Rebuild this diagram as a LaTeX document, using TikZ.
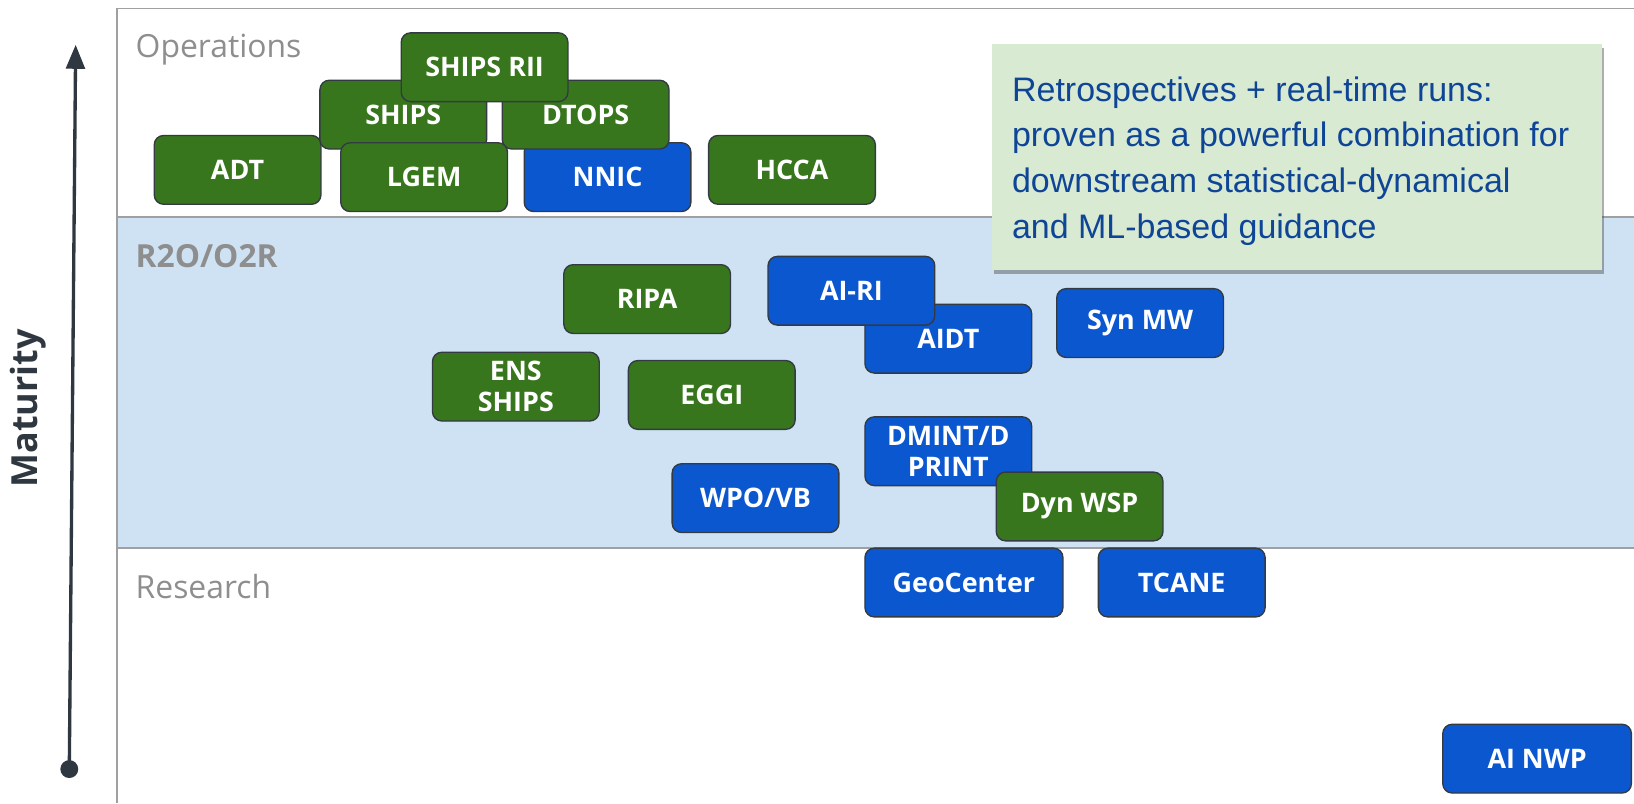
\documentclass[tikz,border=0pt]{standalone}
\usepackage{fontspec}
\setmainfont{Open Sans}
\newfontfamily\arialf{Liberation Sans}
\usetikzlibrary{arrows.meta,shadows}
\definecolor{gbox}{HTML}{38761D}
\definecolor{bbox}{HTML}{0B57D0}
\definecolor{edge}{HTML}{333A42}
\definecolor{band}{HTML}{CFE2F3}
\definecolor{rule}{HTML}{A0A0A0}
\definecolor{lbl}{HTML}{8E8E8E}
\definecolor{note}{HTML}{D9EAD3}
\definecolor{notetext}{HTML}{0E4596}
\definecolor{axis}{HTML}{2F3740}
\tikzset{
  item/.style={draw=edge, line width=1.3pt, rounded corners=9pt,
    minimum width=160pt, minimum height=66pt, inner sep=0pt, text=white,
    align=center, font=\bfseries\fontsize{25.8}{30}\selectfont},
  gitem/.style={item, fill=gbox},
  bitem/.style={item, fill=bbox},
  zone/.style={anchor=base west, text=lbl, inner sep=0pt, font=\fontsize{30.6}{30}\selectfont},
  rulestyle/.style={draw=rule, line width=1.6pt},
}
\begin{document}
\begin{tikzpicture}[x=1pt,y=-1pt]
\useasboundingbox (0,0) rectangle (1568,771);
% background band and frame
\fill[band] (112,208) rectangle (1568,526);
\draw[rulestyle] (1568,8) -- (112,8) -- (112,771);
\draw[rulestyle] (112,208) -- (1568,208);
\draw[rulestyle] (112,526) -- (1568,526);
% zone labels
\node[zone] (ops) at (130,55.5) {Operations};
\node[zone, font=\bfseries\fontsize{30.5}{30}\selectfont] (r2o) at (130,257) {R2O/O2R};
\node[zone] (res) at (130,574) {Research};
% maturity axis
\coordinate (abot) at (66.5,738);
\coordinate (atop) at (72.6,43);
\draw[axis, line width=3.2pt, -{Triangle[length=23pt,width=18pt]}] (abot) -- (atop);
\fill[axis] (abot) circle (8.6pt);
\node[rotate=90, text=axis, font=\bfseries\fontsize{34.5}{34}\selectfont] (mat) at (27,392) {Maturity};
% operations
\node[gitem] (adt) at (228,163) {ADT};
\node[gitem] (ships) at (387,110) {SHIPS};
\node[bitem] (nnic) at (583,170) {NNIC};
\node[gitem] (dtops) at (562,110) {DTOPS};
\node[gitem] (lgem) at (407,170) {LGEM};
\node[gitem] (shipsrii) at (465,64.5) {SHIPS RII};
\node[gitem] (hcca) at (760,163) {HCCA};
% R2O / O2R
\node[gitem] (ripa) at (621,287) {RIPA};
\node[bitem] (aidt) at (910,325) {AIDT};
\node[bitem] (airi) at (817,279) {AI-RI};
\node[bitem] (synmw) at (1094,310) {Syn MW};
\node[gitem] (ens) at (495,371) {ENS\\SHIPS};
\node[gitem] (eggi) at (683,379) {EGGI};
\node[bitem] (dmint) at (910,433) {DMINT/D\\PRINT};
\node[bitem] (wpo) at (725,478) {WPO/VB};
\node[gitem] (dynwsp) at (1036,486) {Dyn WSP};
% research
\node[bitem, minimum width=190pt] (geo) at (925,559) {GeoCenter};
\node[bitem] (tcane) at (1134,559) {TCANE};
\node[bitem, minimum width=181pt] (ainwp) at (1475,728) {AI NWP};
% callout
\node[fill=note, minimum width=585pt, minimum height=217pt,
  drop shadow={shadow xshift=2pt, shadow yshift=-4pt, opacity=0.45, fill=black!70}]
  (callout) at (1244.5,150.5) {};
\node[anchor=west, inner sep=0pt, align=left, text=notetext,
  font=\arialf\fontsize{32.6}{44}\selectfont]
  (callouttext) at (971,154.5)
  {Retrospectives + real-time runs:\\proven as a powerful combination for\\downstream statistical-dynamical\\and ML-based guidance};
\end{tikzpicture}
\end{document}
